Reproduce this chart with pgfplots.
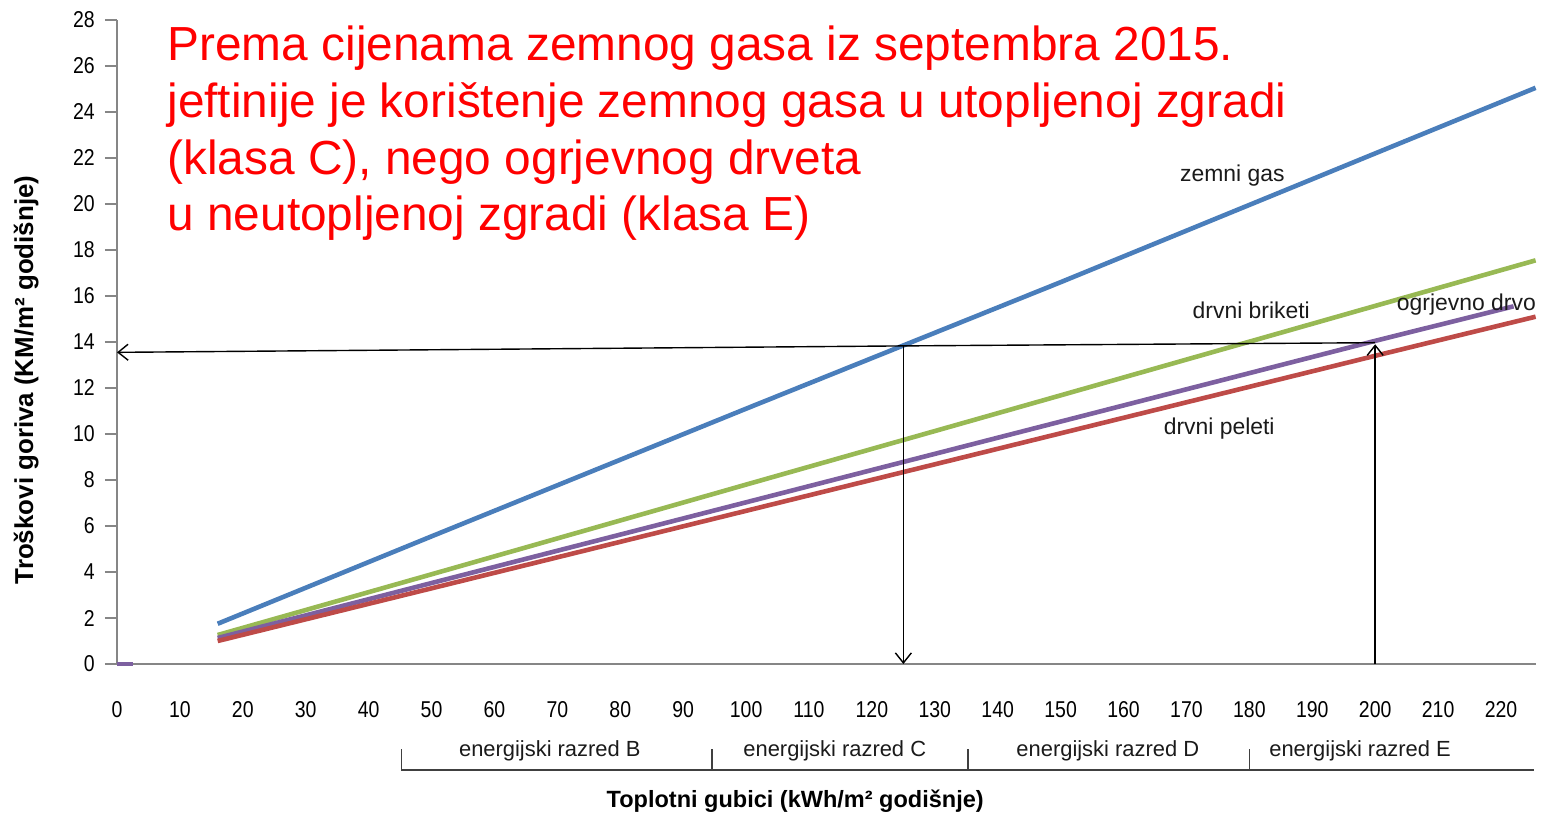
\documentclass[border=0pt]{standalone}
\usepackage{pgfplots}
\pgfplotsset{compat=1.18}
\usepackage{fontspec}
\setmainfont{Liberation Sans}
\usetikzlibrary{arrows.meta}
\definecolor{gasblue}{HTML}{4A7EBB}
\definecolor{brikgreen}{HTML}{98B954}
\definecolor{drvopurple}{HTML}{7D60A0}
\definecolor{peletred}{HTML}{BE4B48}
\definecolor{axgray}{HTML}{868686}
\definecolor{txt}{HTML}{1A1A1A}
\begin{document}
\begin{tikzpicture}
\useasboundingbox (-58.5bp,-75bp) rectangle (713bp,332bp);
\begin{axis}[
  scale only axis, width=709.3bp, height=322bp,
  xmin=0, xmax=225.5, ymin=0, ymax=28,
  axis x line=bottom, axis y line=left,
  axis line style={-, axgray, line width=1bp},
  xtick={0,10,...,220}, ytick={0,2,...,28},
  x tick style={draw=none},
  y tick style={axgray, line width=1bp},
  tick align=outside, major tick length=6bp,
  ticklabel style={font=\fontsize{11.5}{13}\selectfont, text=black, xscale=0.85},
  /pgf/number format/assume math mode=true,
  xticklabel style={yshift=-9bp},
  yticklabel style={xshift=-2.5bp},
  clip=false,
]
% zemni gas
\addplot[gasblue, line width=2.3bp] coordinates {(16,1.75) (50,5.55) (100,11.1) (150,16.6) (200,22.2) (225.5,25.05)};
% drvni briketi
\addplot[brikgreen, line width=2.3bp] coordinates {(16,1.26) (50,3.9) (100,7.8) (150,11.68) (200,15.57) (225.5,17.55)};
% ogrjevno drvo
\addplot[drvopurple, line width=2.3bp] coordinates {(16,1.13) (50,3.52) (100,7.03) (150,10.54) (200,14.05) (222,15.55)};
\addplot[drvopurple, line width=2.3bp] coordinates {(0,0) (2.5,0)};
% drvni peleti
\addplot[peletred, line width=2.3bp] coordinates {(16,1.0) (50,3.29) (100,6.66) (150,10.03) (200,13.4) (225.5,15.1)};

% arrows
\draw[-{Straight Barb[length=5bp,width=8bp]}, line width=0.7bp] (axis cs:200,13.97) -- (axis cs:125,13.83) -- (axis cs:0,13.55);
\draw[-{Straight Barb[length=5bp,width=8bp]}, line width=0.7bp] (axis cs:125,13.83) -- (axis cs:125,0);
\draw[-{Straight Barb[length=5bp,width=8bp]}, line width=0.7bp] (axis cs:200,0) -- (axis cs:200,13.9);

% series labels
\begin{scope}[every node/.style={font=\fontsize{11.5}{13}\selectfont, text=txt, anchor=base}]
\node at (axis cs:177.3,20.96) {zemni gas};
\node at (axis cs:180.3,15.04) {drvni briketi};
\node at (axis cs:214.5,15.35) {ogrjevno drvo};
\node at (axis cs:175.2,9.96) {drvni peleti};
\end{scope}

% red text
\begin{scope}[every node/.style={font=\fontsize{24}{28}\selectfont, text=red, anchor=base west, inner sep=0pt}]
\node at (axis cs:7.95,26.26) {Prema cijenama zemnog gasa iz septembra 2015.};
\node at (axis cs:7.95,23.78) {jeftinije je korištenje zemnog gasa u utopljenoj zgradi};
\node at (axis cs:7.95,21.30) {(klasa C), nego ogrjevnog drveta};
\node at (axis cs:7.95,18.83) {u neutopljenoj zgradi (klasa E)};
\end{scope}

% energy classes
\draw[line width=0.8bp, black!75] (axis cs:45.2,-4.6) -- (axis cs:225.3,-4.6);
\draw[line width=0.7bp, black!75] (axis cs:45.2,-4.6) -- (axis cs:45.2,-3.7);
\draw[line width=0.7bp, black!75] (axis cs:94.6,-4.6) -- (axis cs:94.6,-3.7);
\draw[line width=0.7bp, black!75] (axis cs:135.3,-4.6) -- (axis cs:135.3,-3.7);
\draw[line width=0.7bp, black!75] (axis cs:180.0,-4.6) -- (axis cs:180.0,-3.7);
\begin{scope}[every node/.style={font=\fontsize{11}{13}\selectfont, text=txt, anchor=base}]
\node at (axis cs:68.8,-4.04) {energijski razred B};
\node at (axis cs:114.1,-4.04) {energijski razred C};
\node at (axis cs:157.5,-4.04) {energijski razred D};
\node at (axis cs:197.6,-4.04) {energijski razred E};
\end{scope}

% axis titles
\node[font=\bfseries\fontsize{11.8}{14}\selectfont, text=black, anchor=base] at (axis cs:107.8,-6.26) {Toplotni gubici (kWh/m² godišnje)};
\node[font=\bfseries\fontsize{13}{15}\selectfont, text=black, anchor=base, rotate=90] at (axis cs:-13.35,12.35) {Troškovi goriva (KM/m² godišnje)};
\end{axis}
\end{tikzpicture}
\end{document}
